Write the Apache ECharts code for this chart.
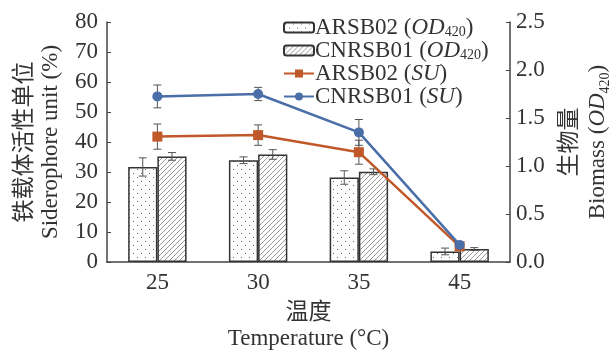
<!DOCTYPE html>
<html lang="en">
<head>
    <meta charset="utf-8">
    <title>Siderophore</title>
    <script src="https://cdn.jsdelivr.net/npm/echarts@6/dist/echarts.min.js"></script>
    <style>
        html, body { margin: 0; height: 100%; background: #fff; }
        #main { width: 610px; height: 351px; }
    </style>
</head>
<body>
<div id="main"></div>
<script>
    // data
    const temps = ['25', '30', '35', '45'];
    // biomass (OD420), right axis
    const odARSB02 = [0.99, 1.06, 0.88, 0.11];
    const odARSB02Err = [0.095, 0.035, 0.07, 0.035];
    const odCNRSB01 = [1.10, 1.12, 0.94, 0.135];
    const odCNRSB01Err = [0.04, 0.05, 0.03, 0.015];
    // siderophore unit (%), left axis
    const suARSB02 = [41.8, 42.3, 36.6, 5.2];
    const suARSB02Err = [4.2, 3.4, 4.0, 0];
    const suCNRSB01 = [55.2, 56.0, 43.2, 5.7];
    const suCNRSB01Err = [3.8, 2.2, 4.3, 0];

    const serif = '"Liberation Serif", "Noto Sans CJK SC", serif';
    const txt = '#333';
    const fs = 23;

    function dotPattern() {
        const c = document.createElement('canvas');
        c.width = 8; c.height = 8;
        const g = c.getContext('2d');
        g.fillStyle = '#fff'; g.fillRect(0, 0, 8, 8);
        g.fillStyle = '#666';
        g.fillRect(1, 1, 1, 1);
        g.fillRect(5, 5, 1, 1);
        return c;
    }
    function hatchPattern() {
        const c = document.createElement('canvas');
        c.width = 5; c.height = 5;
        const g = c.getContext('2d');
        g.fillStyle = '#fff'; g.fillRect(0, 0, 5, 5);
        g.strokeStyle = '#999'; g.lineWidth = 1;
        g.beginPath();
        g.moveTo(0, 5); g.lineTo(5, 0);
        g.moveTo(-1, 1); g.lineTo(1, -1);
        g.moveTo(4, 6); g.lineTo(6, 4);
        g.stroke();
        return c;
    }

    function errData(vals, errs, off) {
        return vals.map((v, i) => [i, v, errs[i], off]);
    }
    function errSeries(vals, errs, off, axis) {
        return {
            type: 'custom',
            yAxisIndex: axis,
            z: 5,
            silent: true,
            encode: { x: 0, y: 1 },
            data: errData(vals, errs, off),
            renderItem: function (params, api) {
                const e = api.value(2);
                if (!e) return;
                const band = api.size([1, 0])[0];
                const v = api.value(1);
                const hi = api.coord([api.value(0), v + e]);
                const lo = api.coord([api.value(0), v - e]);
                const x = hi[0] + api.value(3) * band;
                const w = 4;
                const st = { stroke: '#555', lineWidth: 1 };
                return {
                    type: 'group',
                    children: [
                        { type: 'line', shape: { x1: x, y1: hi[1], x2: x, y2: lo[1] }, style: st },
                        { type: 'line', shape: { x1: x - w, y1: hi[1], x2: x + w, y2: hi[1] }, style: st },
                        { type: 'line', shape: { x1: x - w, y1: lo[1], x2: x + w, y2: lo[1] }, style: st }
                    ]
                };
            }
        };
    }

    const myChart = echarts.init(document.getElementById('main'));

    const richText = {
        n: { fontFamily: serif, fontSize: fs, color: txt, lineHeight: 23 },
        i: { fontFamily: serif, fontSize: fs, fontStyle: 'italic', color: txt, lineHeight: 23 },
        s: { fontFamily: serif, fontSize: 14, color: txt, lineHeight: 14, verticalAlign: 'bottom' }
    };

    const option = {
        animation: false,
        backgroundColor: '#fff',
        grid: { left: 107, right: 100, top: 22, bottom: 89, outerBoundsMode: 'none', containLabel: false },
        legend: {
            orient: 'vertical',
            left: 283,
            top: 16,
            padding: 0,
            itemWidth: 30,
            itemHeight: 10,
            itemGap: 0,
            data: ['ARSB02 OD', 'CNRSB01 OD', 'ARSB02 SU', 'CNRSB01 SU'],
            formatter: function (name) {
                const parts = name.split(' ');
                if (parts[1] === 'OD') {
                    return '{n|' + parts[0] + ' (}{i|OD}{s|420}{n|)}';
                }
                return '{n|' + parts[0] + ' (}{i|SU}{n|)}';
            },
            textStyle: { rich: richText, padding: [0, 0, 0, -4] }
        },
        xAxis: {
            type: 'category',
            data: temps,
            axisLine: { lineStyle: { color: '#444', width: 1.5 } },
            axisTick: { show: false },
            axisLabel: { fontFamily: serif, fontSize: fs, color: txt, margin: 9 },
            name: '温度\nTemperature (°C)',
            nameLocation: 'middle',
            nameGap: 38,
            nameTextStyle: { fontFamily: serif, fontSize: fs, color: txt, lineHeight: 26, verticalAlign: 'top' }
        },
        yAxis: [
            {
                type: 'value',
                min: 0, max: 80, interval: 10,
                position: 'left',
                axisLine: { show: true, lineStyle: { color: '#444', width: 1.5 } },
                axisTick: { show: true, inside: true, length: 4, lineStyle: { color: '#444' } },
                splitLine: { show: false },
                axisLabel: { fontFamily: serif, fontSize: fs, color: txt, margin: 9 },
                name: '铁载体活性单位\nSiderophore unit (%)',
                nameLocation: 'middle',
                nameRotate: 90,
                nameGap: 39,
                nameTextStyle: { fontFamily: serif, fontSize: fs, color: txt, lineHeight: 26 }
            },
            {
                type: 'value',
                min: 0, max: 2.5, interval: 0.5,
                position: 'right',
                axisLine: { show: true, lineStyle: { color: '#444', width: 1.5 } },
                axisTick: { show: true, inside: true, length: 4, lineStyle: { color: '#444' } },
                splitLine: { show: false },
                axisLabel: {
                    fontFamily: serif, fontSize: fs, color: txt, margin: 6,
                    formatter: v => v.toFixed(1)
                },
                name: '{n|生物量}\n{n|Biomass (}{i|OD}{s|420}{n|)}',
                nameLocation: 'middle',
                nameRotate: 90,
                nameGap: 46,
                nameTextStyle: {
                    fontFamily: serif, fontSize: fs, color: txt,
                    rich: {
                        n: { fontFamily: serif, fontSize: fs, color: txt, lineHeight: 28 },
                        i: { fontFamily: serif, fontSize: fs, fontStyle: 'italic', color: txt, lineHeight: 28 },
                        s: { fontFamily: serif, fontSize: 14, color: txt, lineHeight: 16, verticalAlign: 'bottom' }
                    }
                }
            }
        ],
        series: [
            {
                name: 'ARSB02 OD',
                type: 'bar',
                yAxisIndex: 1,
                barWidth: '29%',
                barGap: '0%',
                data: odARSB02,
                itemStyle: {
                    color: { image: dotPattern(), repeat: 'repeat' },
                    borderColor: '#333', borderWidth: 1.5
                }
            },
            {
                name: 'CNRSB01 OD',
                type: 'bar',
                yAxisIndex: 1,
                barWidth: '29%',
                barGap: '0%',
                data: odCNRSB01,
                itemStyle: {
                    color: { image: hatchPattern(), repeat: 'repeat' },
                    borderColor: '#333', borderWidth: 1.5
                }
            },
            errSeries(odARSB02, odARSB02Err, -0.145, 1),
            errSeries(odCNRSB01, odCNRSB01Err, 0.145, 1),
            {
                name: 'ARSB02 SU',
                type: 'line',
                yAxisIndex: 0,
                z: 6,
                data: suARSB02,
                symbol: 'rect',
                symbolSize: 10,
                lineStyle: { color: '#c0582a', width: 2.5 },
                itemStyle: { color: '#c0582a' }
            },
            {
                name: 'CNRSB01 SU',
                type: 'line',
                yAxisIndex: 0,
                z: 7,
                data: suCNRSB01,
                symbol: 'circle',
                symbolSize: 10,
                lineStyle: { color: '#4a6ea8', width: 2.5 },
                itemStyle: { color: '#4a6ea8' }
            },
            errSeries(suARSB02, suARSB02Err, 0, 0),
            errSeries(suCNRSB01, suCNRSB01Err, 0, 0)
        ]
    };

    myChart.setOption(option);
</script>
</body>
</html>
